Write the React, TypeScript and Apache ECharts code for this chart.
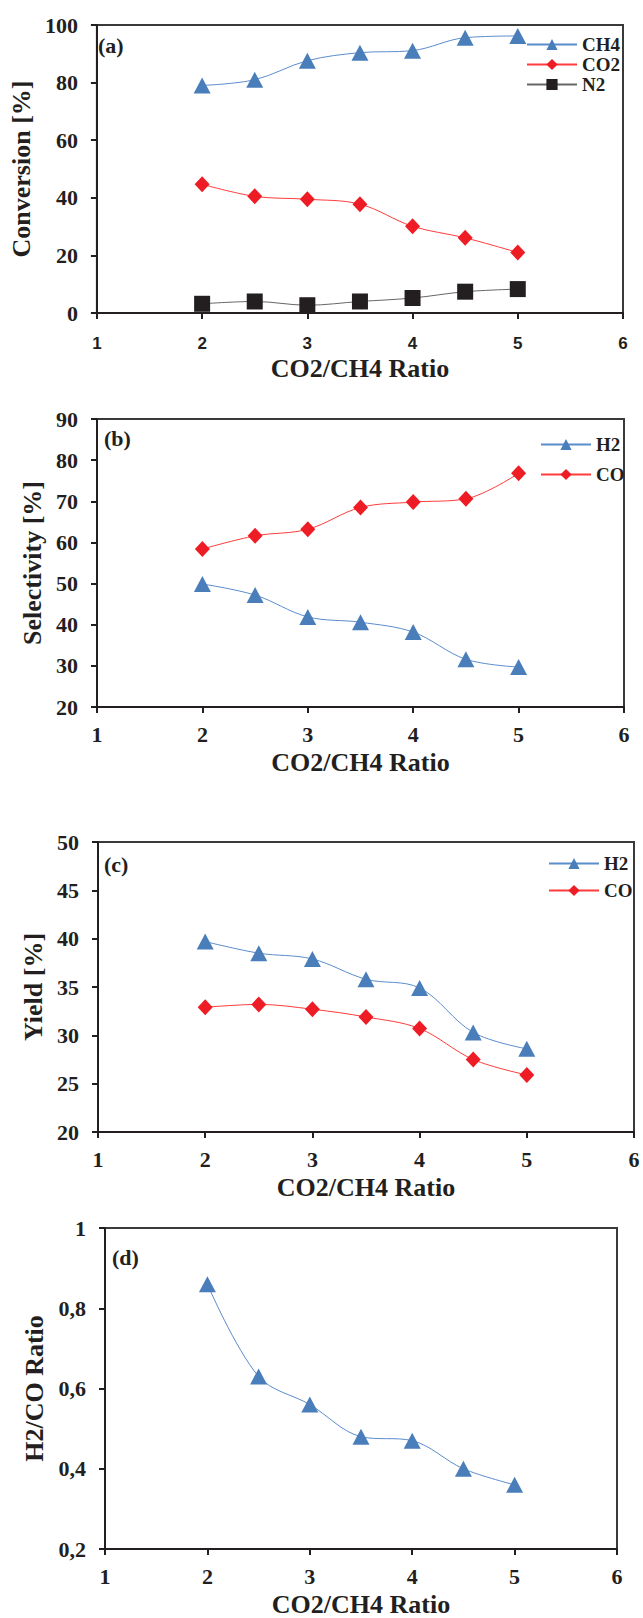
import React, { useEffect, useRef } from 'react';
import * as echarts from 'echarts';

// ---- data ----
const ratio = [2, 2.5, 3, 3.5, 4, 4.5, 5];
// (a) Conversion [%]
const convCH4 = [79.0, 81.0, 87.6, 90.4, 91.1, 95.6, 96.2];
const convCO2 = [44.7, 40.5, 39.5, 37.8, 30.1, 26.1, 21.0];
const convN2 = [3.2, 4.0, 2.7, 4.0, 5.2, 7.4, 8.3];
// (b) Selectivity [%]
const selH2 = [49.9, 47.2, 41.9, 40.6, 38.2, 31.6, 29.7];
const selCO = [58.4, 61.6, 63.2, 68.5, 69.8, 70.6, 76.8];
// (c) Yield [%]
const yieldH2 = [39.7, 38.5, 37.9, 35.8, 34.9, 30.3, 28.6];
const yieldCO = [32.9, 33.2, 32.7, 31.9, 30.7, 27.5, 25.9];
// (d) H2/CO ratio
const h2co = [0.86, 0.63, 0.56, 0.48, 0.47, 0.40, 0.36];

const panelLabels = ['(a)', '(b)', '(c)', '(d)'];
const xTitle = 'CO2/CH4 Ratio';
const yTitles = ['Conversion [%]', 'Selectivity [%]', 'Yield [%]', 'H2/CO Ratio'];

const SERIF = '"Liberation Serif", "Times New Roman", serif';
const SANS = '"Liberation Sans", Arial, sans-serif';
const INK = '#231f20';
const BLUE = '#4a7ebb';
const RED = '#ee1c25';

const pairs = (ys: number[]) => ratio.map((x, i) => [x, ys[i]]);

const grids = [
  { left: 93, top: 25, width: 530, height: 288 },
  { left: 97, top: 419, width: 527, height: 288 },
  { left: 98, top: 842, width: 536, height: 290 },
  { left: 105, top: 1228, width: 512, height: 323 },
];

const yAxisCfg = [
  { min: 0, max: 100, interval: 20, gap: 58 },
  { min: 20, max: 90, interval: 10, gap: 52 },
  { min: 20, max: 50, interval: 5, gap: 50 },
  { min: 0.2, max: 1, interval: 0.2, gap: 49 },
];

function buildOption() {
  const xAxis = grids.map((_, i) => ({
    type: 'value',
    gridIndex: i,
    min: 1,
    max: 6,
    interval: 1,
    name: xTitle,
    nameLocation: 'middle',
    nameGap: 42,
    nameTextStyle: { fontFamily: SERIF, fontWeight: 'bold', fontSize: 26, color: INK },
    splitLine: { show: false },
    axisLine: { show: true, onZero: false, lineStyle: { color: INK, width: 2 } },
    axisTick: { show: true, inside: false, length: 6, lineStyle: { color: INK, width: 2 } },
    axisLabel: i === 0
      ? { fontFamily: SANS, fontWeight: 'bold', fontSize: 17, color: INK, margin: 22 }
      : { fontFamily: SERIF, fontWeight: 'bold', fontSize: 22, color: INK, margin: 16 },
  }));

  const yAxis = grids.map((_, i) => ({
    type: 'value',
    gridIndex: i,
    min: yAxisCfg[i].min,
    max: yAxisCfg[i].max,
    interval: yAxisCfg[i].interval,
    name: yTitles[i],
    nameLocation: 'middle',
    nameRotate: 90,
    nameGap: yAxisCfg[i].gap,
    nameTextStyle: { fontFamily: SERIF, fontWeight: 'bold', fontSize: 26, color: INK },
    splitLine: { show: false },
    axisLine: { show: true, onZero: false, lineStyle: { color: INK, width: 2 } },
    axisTick: { show: true, inside: false, length: 6, lineStyle: { color: INK, width: 2 } },
    axisLabel: {
      fontFamily: SERIF,
      fontWeight: 'bold',
      fontSize: 22,
      color: INK,
      margin: 19,
      formatter: (v: number) => {
        if (i === 3) {
          const s = String(+v.toFixed(1));
          return s.replace('.', ',');
        }
        return String(Math.round(v));
      },
    },
  }));

  const mk = (name: string, data: number[], gi: number, kind: 'tri' | 'dia' | 'sq') => {
    const style =
      kind === 'tri'
        ? { symbol: 'triangle', symbolSize: [17, 16], color: BLUE, line: '#5b8ccc' }
        : kind === 'dia'
        ? { symbol: 'diamond', symbolSize: [15, 16], color: RED, line: '#ff3b3b' }
        : { symbol: 'rect', symbolSize: 16, color: INK, line: '#666666' };
    return {
      type: 'line',
      name,
      xAxisIndex: gi,
      yAxisIndex: gi,
      data: pairs(data),
      smooth: 0.35,
      symbol: style.symbol,
      symbolSize: style.symbolSize,
      showSymbol: true,
      itemStyle: { color: style.color, borderWidth: 0 },
      lineStyle: { color: style.line, width: 1 },
      emphasis: { disabled: true },
    };
  };

  const series = [
    mk('CH4', convCH4, 0, 'tri'),
    mk('CO2', convCO2, 0, 'dia'),
    mk('N2', convN2, 0, 'sq'),
    mk('H2', selH2, 1, 'tri'),
    mk('CO', selCO, 1, 'dia'),
    mk('H2 ', yieldH2, 2, 'tri'),
    mk('CO ', yieldCO, 2, 'dia'),
    mk('H2/CO', h2co, 3, 'tri'),
  ];

  const legendText = { fontFamily: SERIF, fontWeight: 'bold', fontSize: 19, color: INK };
  const legend = [
    { data: ['CH4', 'CO2', 'N2'], left: 521, top: 30, itemGap: 1 },
    { data: ['H2', 'CO'], left: 535, top: 430, itemGap: 11 },
    { data: [{ name: 'H2 ' }, { name: 'CO ' }], left: 543, top: 849, itemGap: 8 },
  ].map((l) => ({
    ...l,
    orient: 'vertical',
    itemWidth: 50,
    itemHeight: 14,
    selectedMode: false,
    textStyle: legendText,
  }));

  const graphic = grids.map((g, i) => ({
    type: 'text',
    left: [98, 104, 104, 112][i],
    top: [34, 427, 853, 1246][i],
    style: {
      text: panelLabels[i],
      fontFamily: SERIF,
      fontWeight: 'bold',
      fontSize: 22,
      fill: INK,
    },
  }));

  return {
    animation: false,
    backgroundColor: '#ffffff',
    grid: grids.map((g) => ({ ...g, show: true, borderColor: '#3a3a3a', borderWidth: 2, backgroundColor: 'transparent' })),
    xAxis,
    yAxis,
    series,
    legend,
    graphic,
  };
}

export default function App() {
  const ref = useRef<HTMLDivElement>(null);
  useEffect(() => {
    if (!ref.current) return;
    const chart = echarts.init(ref.current, undefined, { renderer: 'svg' });
    chart.setOption(buildOption() as any);
    return () => chart.dispose();
  }, []);
  return (
    <div
      ref={ref}
      style={{ position: 'absolute', left: 0, top: 0, width: 643, height: 1618, background: '#fff' }}
    />
  );
}
